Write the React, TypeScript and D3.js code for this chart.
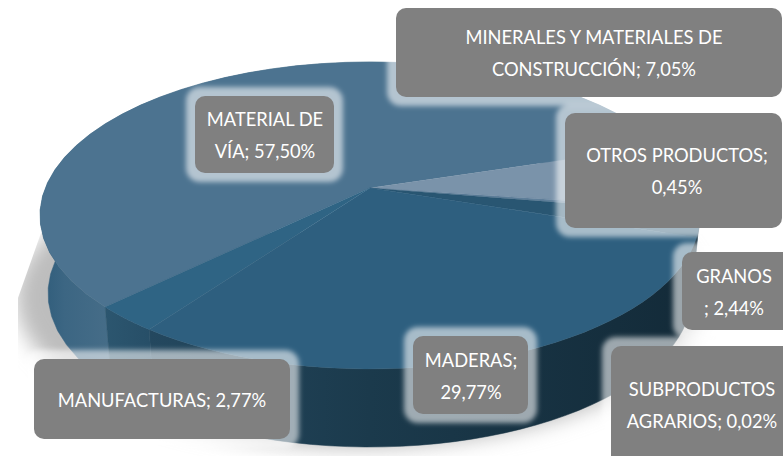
import React from "react";
import * as d3 from "d3";

const categories = ["MATERIAL DE VÍA", "MINERALES Y MATERIALES DE CONSTRUCCIÓN", "OTROS PRODUCTOS", "GRANOS", "SUBPRODUCTOS AGRARIOS", "MADERAS", "MANUFACTURAS"];
const shares = [57.5, 7.05, 0.45, 2.44, 0.02, 29.77, 2.77];
const faceColors = ["#4c7390", "#7a93aa", "#5f7f9a", "#295672", "#2e5f7f", "#2e5f7f", "#2f6484"];
const wallIds = ["wallA", "wallA", "wallA", "wallC", "wallC", "wallC", "wallB"];
const labelLines = [
  ["MATERIAL DE", "VÍA; 57,50%"],
  ["MINERALES Y MATERIALES DE", "CONSTRUCCIÓN; 7,05%"],
  ["OTROS PRODUCTOS;", "0,45%"],
  ["GRANOS", "; 2,44%"],
  ["SUBPRODUCTOS", "AGRARIOS; 0,02%"],
  ["MADERAS;", "29,77%"],
  ["MANUFACTURAS; 2,77%"],
];
const labelBoxes = [
  [195, 96, 139, 77], [396, 8, 386, 89], [565, 113, 217, 115], [682, 252, 110, 78],
  [611, 346, 190, 130], [413, 336, 115, 78], [34, 359, 256, 80],
];
const labelCx = [265, 594, 677, 734, 702, 471, 162];

const W = 783, H = 456;
const apex = { x: 370, y: 188 };
const persp = { c: -0.179, a: 148.6, d: 324.7 };
const start = (225.5 * Math.PI) / 180;

function top(t: number): [number, number] {
  const u = Math.sin(t), v = -Math.cos(t);
  const k = 1 + persp.c * v;
  return [apex.x + (u * persp.d) / k, apex.y + (v * persp.a) / k];
}
function bottom(t: number): [number, number] {
  const [x, y] = top(t);
  return [370 + ((x - 370) * 322) / 330, 293 + (y - 215)];
}
const line = d3.line();
const samples = (a: number, b: number) => d3.range(0, 41).map((i) => a + ((b - a) * i) / 40);

const pie = d3.pie<number>().value((d) => d).sort(null).startAngle(start).endAngle(start + 2 * Math.PI);
const arcs = pie(shares);
const fontFamily = "Lato, sans-serif";

export default function App() {
  return (
    <svg width={W} height={H} style={{ position: "absolute", left: 0, top: 0, background: "#fff" }}>
      <defs>
        <filter id="glow" x="-30%" y="-30%" width="160%" height="160%"><feGaussianBlur stdDeviation="2.6" /></filter>
        <filter id="shadow" x="-20%" y="-20%" width="140%" height="140%"><feGaussianBlur stdDeviation="10" /></filter>
        <clipPath id="shadowClip"><path d="M41,233L18,298L18,456L783,456L783,233Z" /></clipPath>
        <linearGradient id="wallA" gradientUnits="userSpaceOnUse" x1="40" x2="110" y1="0" y2="0">
          <stop offset="0" stopColor="#2f5c7a" /><stop offset="0.35" stopColor="#3c6683" /><stop offset="1" stopColor="#466d88" />
        </linearGradient>
        <linearGradient id="wallB" gradientUnits="userSpaceOnUse" x1="105" x2="160" y1="0" y2="0">
          <stop offset="0" stopColor="#2c566f" /><stop offset="1" stopColor="#264d66" />
        </linearGradient>
        <linearGradient id="wallC" gradientUnits="userSpaceOnUse" x1="150" x2="700" y1="0" y2="0">
          <stop offset="0" stopColor="#24485f" /><stop offset="0.4" stopColor="#1b3a4c" /><stop offset="1" stopColor="#132a38" />
        </linearGradient>
      </defs>
      <g clipPath="url(#shadowClip)">
        <ellipse cx={358} cy={298} rx={342} ry={150} fill="#bdbdbd" filter="url(#shadow)" />
      </g>
      {arcs.map((a, i) => {
        const ts = samples(a.startAngle, a.endAngle);
        const pts = [...ts.map(top), ...ts.slice().reverse().map(bottom)] as [number, number][];
        return <path key={"w" + i} d={line(pts) + "Z"} fill={`url(#${wallIds[i]})`} stroke={`url(#${wallIds[i]})`} strokeWidth={0.5} />;
      })}
      {arcs.map((a, i) => {
        const pts = [[apex.x, apex.y], ...samples(a.startAngle, a.endAngle).map(top)] as [number, number][];
        return <path key={"f" + i} d={line(pts) + "Z"} fill={faceColors[i]} stroke={faceColors[i]} strokeWidth={0.3}><title>{categories[i]}</title></path>;
      })}
      {labelBoxes.map(([x, y, w, h], i) => (
        <rect key={"g" + i} x={x - 9} y={y - 9} width={w + 18} height={h + 18} rx={14} fill="#fff" fillOpacity={0.58} filter="url(#glow)" />
      ))}
      {labelBoxes.map(([x, y, w, h], i) => {
        const lines = labelLines[i];
        const cy = i === 4 ? 405 : y + h / 2 + 1;
        return (
          <g key={"l" + i}>
            <rect x={x} y={y} width={w} height={h} rx={10} fill="#808080" />
            {lines.map((t, j) => (
              <text key={j} x={labelCx[i]} y={cy + (j - (lines.length - 1) / 2) * 32} dy="0.36em" textAnchor="middle" fill="#fff" fontFamily={fontFamily} fontSize={18.3}>{t}</text>
            ))}
          </g>
        );
      })}
    </svg>
  );
}
